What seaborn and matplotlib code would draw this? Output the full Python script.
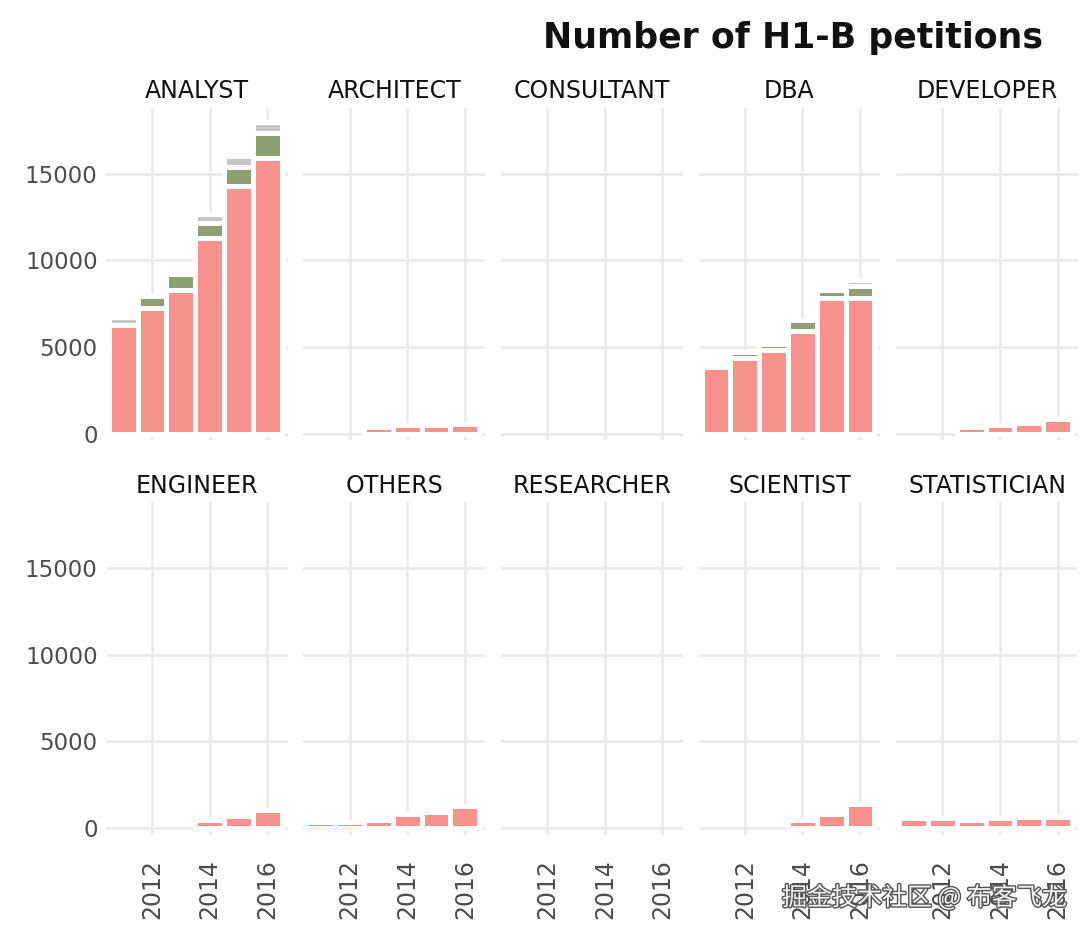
import numpy as np
import pandas as pd
import matplotlib
matplotlib.use("Agg")
import matplotlib.pyplot as plt
import matplotlib.patheffects as pe
import seaborn as sns

# ---------------- data ----------------
years = [2011, 2012, 2013, 2014, 2015, 2016]
jobs = ["ANALYST", "ARCHITECT", "CONSULTANT", "DBA", "DEVELOPER",
        "ENGINEER", "OTHERS", "RESEARCHER", "SCIENTIST", "STATISTICIAN"]
statuses = ["CERTIFIED", "CERTIFIED-WITHDRAWN", "WITHDRAWN"]
status_colors = ["#F8928C", "#8E9F74", "#C6C6C6"]

# CERTIFIED counts per job, 2011..2016
analyst_certified = [6250, 7230, 8280, 11270, 14280, 15900]
architect_certified = [0, 0, 390, 520, 520, 560]
consultant_certified = [0, 0, 0, 0, 0, 0]
dba_certified = [3870, 4335, 4800, 5950, 7815, 7800]
developer_certified = [0, 0, 380, 520, 620, 830]
engineer_certified = [0, 0, 0, 445, 695, 1040]
others_certified = [330, 330, 460, 830, 925, 1270]
researcher_certified = [0, 0, 0, 0, 0, 0]
scientist_certified = [0, 0, 0, 460, 830, 1410]
statistician_certified = [580, 580, 445, 580, 660, 660]

# CERTIFIED-WITHDRAWN counts (only visible for ANALYST and DBA)
analyst_cert_withdrawn = [0, 690, 930, 880, 1110, 1455]
dba_cert_withdrawn = [0, 345, 345, 600, 470, 700]

# WITHDRAWN counts (only visible for ANALYST and DBA)
analyst_withdrawn = [480, 0, 0, 525, 625, 626]
dba_withdrawn = [0, 0, 0, 0, 0, 350]

zeros = [0, 0, 0, 0, 0, 0]
certified_by_job = [analyst_certified, architect_certified, consultant_certified,
                    dba_certified, developer_certified, engineer_certified,
                    others_certified, researcher_certified, scientist_certified,
                    statistician_certified]
cw_by_job = [analyst_cert_withdrawn, zeros, zeros, dba_cert_withdrawn] + [zeros] * 6
wd_by_job = [analyst_withdrawn, zeros, zeros, dba_withdrawn] + [zeros] * 6

rows = []
for job, c, cw, wd in zip(jobs, certified_by_job, cw_by_job, wd_by_job):
    for i, yr in enumerate(years):
        rows.append((job, yr, "CERTIFIED", c[i]))
        rows.append((job, yr, "CERTIFIED-WITHDRAWN", cw[i]))
        rows.append((job, yr, "WITHDRAWN", wd[i]))
df = pd.DataFrame(rows, columns=["job", "year", "status", "count"])

# ---------------- plotting ----------------
sns.set_theme(style="white")
plt.rcParams["font.family"] = ["DejaVu Sans"]

GRID = "#EBEBEB"


def stacked_bars(data, color=None, **kws):
    ax = plt.gca()
    wide = (data.pivot_table(index="year", columns="status", values="count",
                             aggfunc="sum")
            .reindex(index=years, columns=statuses).fillna(0))
    x = np.array(years)
    bottom = np.zeros(len(years))
    for st, col in zip(statuses, status_colors):
        vals = wide[st].to_numpy(dtype=float)
        m = vals > 0
        if m.any():
            ax.bar(x[m], vals[m], bottom=bottom[m], width=1.0, color=col,
                   edgecolor="white", linewidth=3.6, zorder=2)
        bottom += vals


g = sns.FacetGrid(df, col="job", col_wrap=5, col_order=jobs,
                  sharex=True, sharey=True, height=3, aspect=0.6, despine=False)
g.map_dataframe(stacked_bars)
g.set_titles("{col_name}", size=17, color="#111111", pad=7)
g.set_axis_labels("", "")

fig = g.figure
fig.set_size_inches(10.92, 9.38)

for i, ax in enumerate(g.axes.flat):
    ax.set_xlim(2010.4, 2016.7)
    ax.set_ylim(-375, 18800)
    ax.set_xticks([2012, 2014, 2016])
    ax.set_yticks([0, 5000, 10000, 15000])
    ax.grid(True, color=GRID, linewidth=2.0)
    ax.set_axisbelow(True)
    for s in ax.spines.values():
        s.set_visible(False)
    ax.set_facecolor("white")
    ax.tick_params(axis="both", length=0, labelcolor="#4D4D4D")
    ax.tick_params(axis="x", labelsize=17)
    ax.tick_params(axis="y", labelsize=16.5)
    row, col = divmod(i, 5)
    if row == 1:
        ax.tick_params(axis="x", length=6, width=2.0, color=GRID, pad=12,
                       labelrotation=90, labelbottom=True)
    else:
        ax.tick_params(axis="x", labelbottom=False)
    if col == 0:
        ax.tick_params(axis="y", length=3.5, width=2.0, color=GRID, pad=2.5,
                       labelleft=True)
    else:
        ax.tick_params(axis="y", labelleft=False)

fig.subplots_adjust(left=0.097, right=0.987, top=0.8849, bottom=0.1103,
                    wspace=0.088, hspace=0.188)

fig.text(0.955, 1 - 38 / 938, "Number of H1-B petitions", ha="right", va="center",
         fontsize=25, fontweight="bold", color="#111111")

fig.text(782 / 1092, 1 - 898 / 938, "掘金技术社区 @ 布客飞龙",
         family=["Noto Sans CJK SC", "DejaVu Sans"], fontsize=18,
         color="#F2F2F2", ha="left", va="center",
         path_effects=[pe.withStroke(linewidth=2, foreground="#555555")])

fig.savefig("out.png", dpi=100, facecolor="white")
